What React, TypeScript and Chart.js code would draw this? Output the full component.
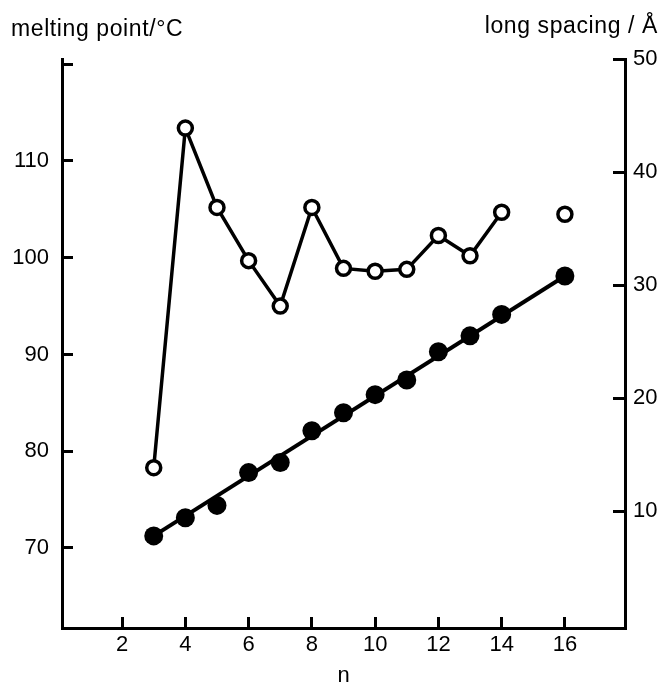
import React, { useEffect, useRef } from "react";
import { Chart, registerables } from "chart.js";

Chart.register(...registerables);

const nValues = [3, 4, 5, 6, 7, 8, 9, 10, 11, 12, 13, 14, 16];
const meltingPoint = [78.3, 113.4, 105.2, 99.7, 95.0, 105.2, 98.9, 98.6, 98.8, 102.3, 100.2, 104.7, 104.5];
const longSpacing = [7.8, 9.4, 10.5, 13.4, 14.3, 17.1, 18.7, 20.3, 21.6, 24.1, 25.5, 27.4, 30.8];
const fitN = [3, 16];
const fitSpacing = [7.8, 30.8];
const xTicks = [2, 4, 6, 8, 10, 12, 14, 16];
const leftTicks = [70, 80, 90, 100, 110, 120];
const leftLabelled = [70, 80, 90, 100, 110];
const rightTicks = [10, 20, 30, 40, 50];
const leftTitle = "melting point/\u00B0C";
const rightTitle = "long spacing / \u00C5";
const xTitle = "n";

const FONT = '"Liberation Sans", Arial, Helvetica, sans-serif';

export default function App() {
  const ref = useRef<HTMLCanvasElement | null>(null);

  useEffect(() => {
    const canvas = ref.current;
    if (!canvas) return;

    const titles = {
      id: "cornerTitles",
      afterDraw(chart: any) {
        const ctx = chart.ctx;
        ctx.save();
        ctx.fillStyle = "#000";
        ctx.font = `23px ${FONT}`;
        try { (ctx as any).letterSpacing = "0.6px"; } catch (e) {}
        ctx.textBaseline = "alphabetic";
        ctx.textAlign = "left";
        ctx.fillText(leftTitle, 11, 36);
        ctx.textAlign = "right";
        ctx.fillText(rightTitle, 658, 33);
        ctx.restore();
      },
    };

    const chart = new Chart(canvas, {
      type: "scatter",
      data: {
        datasets: [
          {
            label: "melting point",
            data: nValues.map((n, i) => ({ x: n, y: meltingPoint[i] })),
            xAxisID: "x",
            yAxisID: "y",
            showLine: true,
            borderColor: "#000",
            borderWidth: 3.5,
            pointRadius: 7,
            pointBorderWidth: 3.5,
            pointBackgroundColor: "#fff",
            pointBorderColor: "#000",
            segment: {
              borderColor: (c: any) =>
                c.p1.parsed.x - c.p0.parsed.x > 1.5 ? "rgba(0,0,0,0)" : "#000",
            },
            order: 1,
          },
          {
            label: "long spacing",
            data: nValues.map((n, i) => ({ x: n, y: longSpacing[i] })),
            xAxisID: "x",
            yAxisID: "y1",
            showLine: false,
            pointRadius: 9.5,
            pointBorderWidth: 0,
            pointBackgroundColor: "#000",
            pointBorderColor: "#000",
            order: 2,
          },
          {
            label: "fit",
            data: fitN.map((n, i) => ({ x: n, y: fitSpacing[i] })),
            xAxisID: "x",
            yAxisID: "y1",
            showLine: true,
            borderColor: "#000",
            borderWidth: 4,
            pointRadius: 0,
            order: 3,
          },
        ],
      },
      options: {
        responsive: false,
        animation: false,
        devicePixelRatio: 1,
        layout: { padding: { top: 59, left: 0, right: 0, bottom: 0 } },
        plugins: {
          legend: { display: false },
          tooltip: { enabled: false },
          title: { display: false },
        },
        scales: {
          x: {
            type: "linear",
            position: "bottom",
            min: 0.1,
            max: 17.9,
            afterBuildTicks: (s: any) => {
              s.ticks = xTicks.map((v) => ({ value: v }));
            },
            afterFit: (s: any) => {
              s.height = 62;
            },
            grid: {
              display: true,
              drawOnChartArea: false,
              drawTicks: true,
              tickLength: -11,
              lineWidth: 3,
              color: "#000",
            },
            border: { display: true, color: "#000", width: 3 },
            ticks: {
              padding: 15,
              color: "#000",
              font: { family: FONT, size: 22 },
              maxRotation: 0,
              autoSkip: false,
            },
            title: {
              display: true,
              text: xTitle,
              color: "#000",
              font: { family: FONT, size: 22 },
              padding: { top: 0, bottom: 1 },
            },
          },
          y: {
            type: "linear",
            position: "left",
            min: 61.73,
            max: 120.54,
            afterBuildTicks: (s: any) => {
              s.ticks = leftTicks.map((v) => ({ value: v }));
            },
            afterFit: (s: any) => {
              s.width = 62;
            },
            grid: {
              display: true,
              drawOnChartArea: false,
              drawTicks: true,
              tickLength: -11,
              lineWidth: 3,
              color: "#000",
            },
            border: { display: true, color: "#000", width: 3 },
            ticks: {
              padding: 24,
              color: "#000",
              font: { family: FONT, size: 22 },
              autoSkip: false,
              callback: (v: any) => (leftLabelled.includes(Number(v)) ? String(v) : ""),
            },
          },
          y1: {
            type: "linear",
            position: "right",
            min: -0.35,
            max: 50,
            afterBuildTicks: (s: any) => {
              s.ticks = rightTicks.map((v) => ({ value: v }));
            },
            afterFit: (s: any) => {
              s.width = 35;
            },
            grid: {
              display: true,
              drawOnChartArea: false,
              drawTicks: true,
              tickLength: -12,
              lineWidth: 3,
              color: "#000",
            },
            border: { display: true, color: "#000", width: 3 },
            ticks: {
              padding: 20,
              color: "#000",
              font: { family: FONT, size: 22 },
              autoSkip: false,
            },
          },
        },
      },
      plugins: [titles],
    });

    return () => chart.destroy();
  }, []);

  return (
    <div style={{ position: "absolute", left: 0, top: 0, width: 660, height: 690, background: "#fff" }}>
      <canvas ref={ref} width={660} height={690} style={{ display: "block" }} />
    </div>
  );
}
